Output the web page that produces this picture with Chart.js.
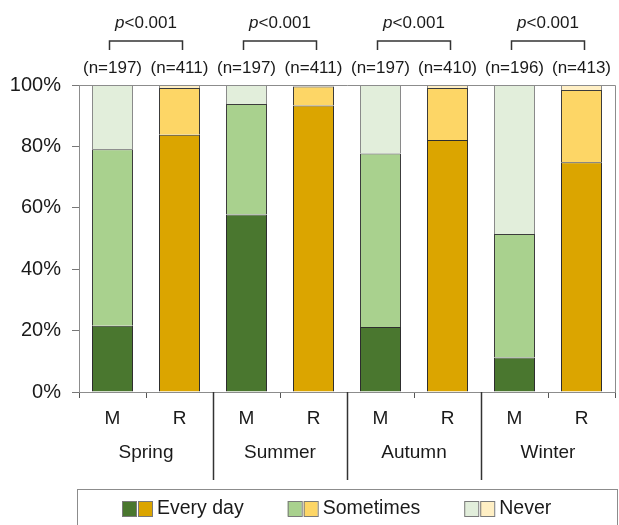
<!DOCTYPE html>
<html>
<head>
<meta charset="utf-8">
<script src="https://cdn.jsdelivr.net/npm/chart.js@4"></script>
<style>
  body { margin: 0; background: #fff; }
  #caixa { width: 619px; height: 525px; }
</style>
</head>
<body>
<div id="caixa"><canvas id="graficoEstacoes" width="619" height="525"></canvas></div>
<script>
// dados (percentual de cada resposta por grupo e estação)
const estacoes = ['Spring', 'Summer', 'Autumn', 'Winter'];
const grupos = ['M', 'R', 'M', 'R', 'M', 'R', 'M', 'R'];
const todoDia = [21.6, 83.8, 57.8, 93.3, 21.2, 82.1, 11.2, 74.8];
const asVezes = [57.5, 15.2, 36.0, 6.2, 56.5, 16.9, 40.3, 23.6];
const nunca = [20.9, 1.0, 6.2, 0.5, 22.3, 1.0, 48.5, 1.6];
const amostras = [197, 411, 197, 411, 197, 410, 196, 413];
const valoresP = ['<0.001', '<0.001', '<0.001', '<0.001'];
const ticksY = [0, 20, 40, 60, 80, 100];

// cores: verde para M, amarelo para R
const cores = {
    todoDia: ['#4a772f', '#dba500'],
    asVezes: ['#a9d18e', '#fdd666'],
    nunca: ['#e2eedb', '#ffefc4'],
};
const fonte = '"Liberation Sans", Arial, sans-serif';
const corTexto = '#1a1a1a';

// alterna a cor conforme o grupo (M ou R)
const porGrupo = (par) => grupos.map((g) => (g === 'M' ? par[0] : par[1]));

// plugin que desenha moldura, rótulos das estações, n, p e a legenda
const extras = {
    id: 'extras',
    afterDraw: (chart) => {
        const ctx = chart.ctx;
        const area = chart.chartArea;
        const x = chart.scales.x;
        ctx.save();

        // moldura de cima e da direita
        ctx.strokeStyle = '#8c8c8c';
        ctx.lineWidth = 1;
        ctx.beginPath();
        ctx.moveTo(area.left, area.top + 0.5);
        ctx.lineTo(area.right + 0.5, area.top + 0.5);
        ctx.lineTo(area.right + 0.5, area.bottom);
        ctx.stroke();

        // separadores entre estações e nome da estação
        ctx.fillStyle = corTexto;
        ctx.textAlign = 'center';
        ctx.textBaseline = 'middle';
        estacoes.forEach((nome, i) => {
            const xm = x.getPixelForValue(i * 2);
            const xr = x.getPixelForValue(i * 2 + 1);
            const meio = (xm + xr) / 2;
            const passo = xr - xm;
            if (i > 0) {
                const xs = Math.round(xm - passo / 2) + 0.5;
                ctx.strokeStyle = '#333';
                ctx.lineWidth = 1.5;
                ctx.beginPath();
                ctx.moveTo(xs, area.bottom);
                ctx.lineTo(xs, area.bottom + 88);
                ctx.stroke();
            }
            ctx.font = '19px ' + fonte;
            ctx.fillText(nome, meio, area.bottom + 61);

            // colchete com o valor de p
            ctx.strokeStyle = '#333';
            ctx.lineWidth = 1.5;
            ctx.beginPath();
            ctx.moveTo(xm - 3, area.top - 35);
            ctx.lineTo(xm - 3, area.top - 44);
            ctx.lineTo(xr + 3, area.top - 44);
            ctx.lineTo(xr + 3, area.top - 35);
            ctx.stroke();

            ctx.font = 'italic 17px ' + fonte;
            const wp = ctx.measureText('p').width;
            ctx.font = '17px ' + fonte;
            const wr = ctx.measureText(valoresP[i]).width;
            const inicio = meio - (wp + wr) / 2;
            ctx.textAlign = 'left';
            ctx.font = 'italic 17px ' + fonte;
            ctx.fillText('p', inicio, area.top - 62);
            ctx.font = '17px ' + fonte;
            ctx.fillText(valoresP[i], inicio + wp, area.top - 62);
            ctx.textAlign = 'center';
        });

        // tamanho da amostra acima de cada barra
        ctx.font = '17px ' + fonte;
        amostras.forEach((n, i) => {
            ctx.fillText('(n=' + n + ')', x.getPixelForValue(i), area.top - 17);
        });

        // legenda com dois quadrados por resposta
        ctx.strokeStyle = '#8c8c8c';
        ctx.lineWidth = 1;
        ctx.strokeRect(77.5, 489.5, 540, 60);
        const itens = [
            ['Every day', cores.todoDia],
            ['Sometimes', cores.asVezes],
            ['Never', cores.nunca],
        ];
        let px = 122;
        ctx.font = '19.5px ' + fonte;
        ctx.textAlign = 'left';
        itens.forEach(([texto, par]) => {
            par.forEach((cor, k) => {
                ctx.fillStyle = cor;
                ctx.fillRect(px + k * 16, 501, 14, 15);
                ctx.strokeStyle = '#7a7a7a';
                ctx.strokeRect(px + k * 16 + 0.5, 501.5, 14, 15);
            });
            ctx.fillStyle = corTexto;
            ctx.fillText(texto, px + 35, 509);
            px += 35 + ctx.measureText(texto).width + 44;
        });
        ctx.restore();
    },
};

const criarGrafico = () => {
    const ctx = document.getElementById('graficoEstacoes').getContext('2d');
    const borda = { barPercentage: 0.612, categoryPercentage: 1, borderWidth: 1 };
    new Chart(ctx, {
        type: 'bar',
        data: {
            labels: grupos,
            datasets: [
                { label: 'Every day', data: todoDia, backgroundColor: porGrupo(cores.todoDia), borderColor: '#2e2e2e', ...borda },
                { label: 'Sometimes', data: asVezes, backgroundColor: porGrupo(cores.asVezes), borderColor: '#3c3c3c', ...borda },
                { label: 'Never', data: nunca, backgroundColor: porGrupo(cores.nunca), borderColor: '#8a8a8a', ...borda },
            ],
        },
        options: {
            responsive: false,
            animation: false,
            layout: { padding: { top: 85, right: 4, left: 0, bottom: 0 } },
            plugins: { legend: { display: false }, tooltip: { enabled: false } },
            scales: {
                x: {
                    stacked: true,
                    afterFit: (escala) => { escala.height = 133; },
                    grid: { drawOnChartArea: false, tickLength: 6, color: '#555', offset: true },
                    border: { color: '#8c8c8c' },
                    ticks: { padding: 9, color: corTexto, font: { family: fonte, size: 19 } },
                },
                y: {
                    stacked: true,
                    min: 0,
                    max: 100,
                    afterFit: (escala) => { escala.width = 79; },
                    afterBuildTicks: (escala) => { escala.ticks = ticksY.map((v) => ({ value: v })); },
                    grid: { drawOnChartArea: false, tickLength: 7, color: '#777' },
                    border: { color: '#8c8c8c' },
                    ticks: {
                        padding: 11,
                        color: corTexto,
                        font: { family: fonte, size: 20 },
                        callback: (v) => v + '%',
                    },
                },
            },
        },
        plugins: [extras],
    });
};

document.addEventListener('DOMContentLoaded', criarGrafico);
</script>
</body>
</html>
